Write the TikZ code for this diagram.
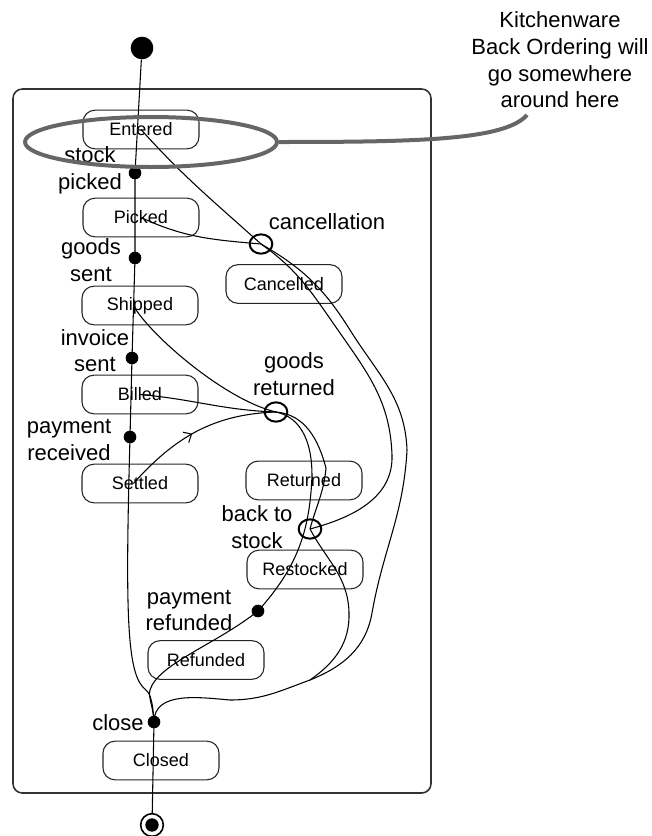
\documentclass[tikz,border=0pt]{standalone}
\usepackage{fontspec}
\setmainfont{Liberation Sans}
\usetikzlibrary{shapes.geometric, decorations.markings, arrows.meta}

\begin{document}
\begin{tikzpicture}[x=0.75pt, y=0.75pt,
  stbox/.style={draw=black!85, line width=0.8pt, rounded corners=9pt,
    minimum width=87pt, minimum height=29pt, inner sep=0pt,
    font=\fontsize{13.5}{16}\selectfont},
  lbl/.style={align=center, inner sep=0pt, font=\fontsize{16.5}{20}\selectfont},
  junction/.style={circle, fill, inner sep=0pt, minimum size=9.5pt},
  choice/.style={ellipse, draw, line width=1.5pt, inner sep=0pt,
    minimum width=17pt, minimum height=14.5pt},
  trans/.style={line width=0.8pt},
  calloutline/.style={draw=black!60, line width=3pt},
  midarrow/.style={postaction={decorate, decoration={markings,
    mark=at position #1 with {\arrow{Straight Barb[length=5pt,width=9pt]}}}}}]
\useasboundingbox (0,0) rectangle (652,-836);
\draw[black!80, line width=1.2pt, rounded corners=7pt] (13,-89) rectangle (431,-793);

\node[circle, fill, inner sep=0pt, minimum size=17pt] (init) at (142,-48) {};
\node[stbox] (entered) at (141,-129.5) {Entered};
\node[stbox] (picked) at (141,-217.5) {Picked};
\node[stbox] (shipped) at (140,-305.5) {Shipped};
\node[stbox] (billed) at (140,-394.5) {Billed};
\node[stbox] (settled) at (140,-483.5) {Settled};
\node[stbox] (cancelled) at (284,-284) {Cancelled};
\node[stbox] (returned) at (304,-480.5) {Returned};
\node[stbox] (restocked) at (305,-569.5) {Restocked};
\node[stbox] (refunded) at (206,-660) {Refunded};
\node[stbox] (closed) at (161,-760.5) {Closed};

\node[junction] (sp) at (135,-173) {};
\node[junction] (gs) at (135,-258) {};
\node[junction] (is) at (132,-358) {};
\node[junction] (pr) at (130,-437) {};
\node[junction] (prf) at (258,-611) {};
\node[junction] (cl) at (154,-722) {};
\node[choice] (cancel) at (261,-244) {};
\node[choice] (goodsret) at (276,-412) {};
\node[choice] (backstock) at (310,-529) {};
\node[circle, draw, line width=1.2pt, inner sep=0pt, minimum size=17pt] (final) at (152,-825) {};
\fill (final.center) circle (5pt);
\coordinate (merge) at (310,-680);

\node[lbl] (lsp) at (90,-170) {stock\\picked};
\node[lbl] (lgs) at (91,-260) {goods\\sent};
\node[lbl] (lis) at (95,-350.5) {invoice\\sent};
\node[lbl] (lpr) at (69,-440) {payment\\received};
\node[lbl] (lcancel) at (327,-222) {cancellation};
\node[lbl] (lgoodsret) at (294,-374) {goods\\returned};
\node[lbl] (lbackstock) at (257,-527) {back to\\stock};
\node[lbl] (lprf) at (189,-610.5) {payment\\refunded};
\node[lbl] (lcl) at (118,-723) {close};
\node[lbl] (note) at (560,-60) {Kitchenware\\Back Ordering will\\go somewhere\\around here};

\draw[trans] (init) -- (sp.center) -- (gs.center) -- (is.center) -- (pr.center);
\draw[trans] (pr.center) .. controls (125,-620) and (127,-676) .. (146,-690)
  .. controls (151,-694) and (153,-705) .. (cl.center);
\draw[trans] (cl.center) -- (final);
\draw[trans] (entered.center) to[out=-48,in=138] (cancel.center) to[out=-35,in=125] (340,-333)
  to[out=-55,in=92] (392,-455) to[out=-88,in=15] (backstock.center);
\draw[trans] (picked.center) to[out=-25,in=175] (cancel.center) to[out=-30,in=122] (350,-330)
  to[out=-58,in=92] (407,-450) to[out=-93,in=80] (372,-613) to[out=-100,in=22] (merge);
\draw[trans] (merge) to[out=-160,in=0] (230,-700) to[out=175,in=90] (cl.center);
\draw[trans] (backstock.center) to[out=-62,in=92] (349,-612) to[out=-88,in=35] (merge);
\draw[trans] ([xshift=-5pt]shipped.center) .. controls (150,-335) and (225,-400) .. (goodsret.center);
\draw[trans] (billed.center) to[out=-5,in=178] (goodsret.center);
\draw[trans, midarrow=0.47] ([xshift=-5pt]settled.center) to[out=48,in=182] (goodsret.center);
\draw[trans] (goodsret.center) to[out=-12,in=90] (312,-475) to[out=-92,in=48] (prf.center);
\draw[trans] (goodsret.center) to[out=-5,in=105] (326,-468) to[out=-95,in=75] (backstock.center);
\draw[trans] (prf.center) .. controls (215,-645) and (158,-664) .. (150,-690)
  .. controls (148,-698) and (153,-705) .. (cl.center);

\node[ellipse, draw=black!60, line width=3pt, inner sep=0pt,
  minimum width=189pt, minimum height=37.5pt] (focus) at (151,-142) {};
\coordinate (tip) at (527,-115);
\draw[calloutline] (focus.east) .. controls (420,-142) and (505,-140) .. (tip);
\end{tikzpicture}
\end{document}
